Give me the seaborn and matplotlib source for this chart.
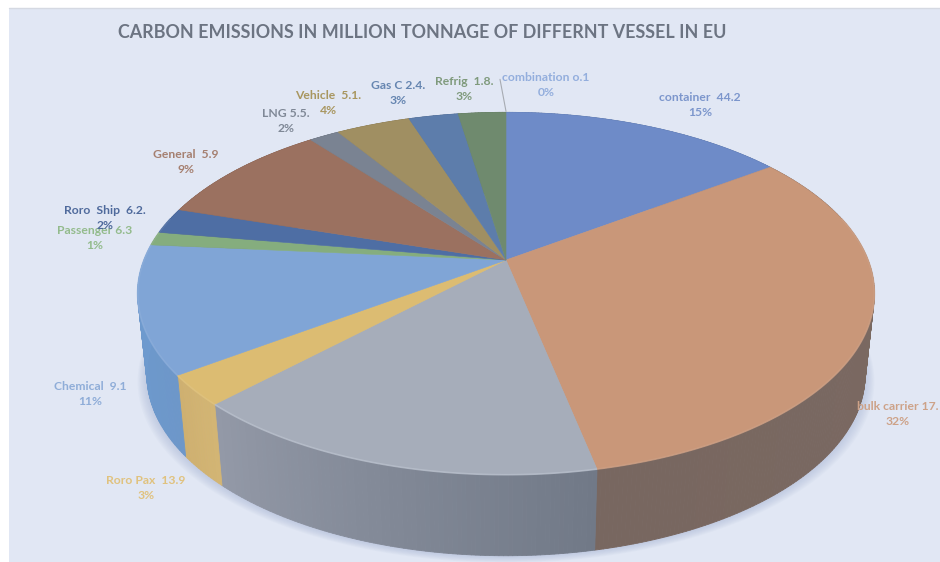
import numpy as np
import matplotlib
matplotlib.use("Agg")
import matplotlib.pyplot as plt
from matplotlib.collections import PolyCollection
from matplotlib.colors import to_rgb
import seaborn as sns

# ---- data (clockwise from 12 o'clock), slice shares ----
vessels = ["container", "bulk carrier", "other", "Roro Pax", "Chemical", "Passenger",
           "Roro Ship", "General", "LNG", "Vehicle", "Gas C", "Refrig", "combination"]
shares = [15.0, 31.7, 15.6, 2.7, 11.4, 1.2, 2.3, 9.5, 1.6, 3.9, 2.6, 2.5, 0.0]
top_colors = ["#6e8bc8", "#c99779", "#a6adba", "#dcbc72", "#80a5d6", "#85ad7e", "#4e6ea4",
              "#9b7160", "#7a8392", "#a08f62", "#5d7dab", "#6f8a6e", "#8fb0e0"]
wall_from = ["#56709f", "#7c6a62", "#717987", "#d3b574", "#6d97c9", "#6a8a64", "#3e5883",
             "#7c5a4c", "#616874", "#80724e", "#4a6488", "#586e58", "#8fb0e0"]
wall_to = ["#56709f", "#786760", "#9399a7", "#cfb070", "#6e9bd0", "#6a8a64", "#3e5883",
           "#7c5a4c", "#616874", "#80724e", "#4a6488", "#586e58", "#8fb0e0"]
label_texts = ["container  44.2\n15%", "bulk carrier 17.\n32%", "Chemical  9.1\n11%",
               "Roro Pax  13.9\n3%", "Passenger 6.3\n1%", "Roro  Ship  6.2.\n2%",
               "General  5.9\n9%", "LNG 5.5.\n2%", "Vehicle  5.1.\n4%", "Gas C 2.4.\n3%",
               "Refrig  1.8.\n3%", "combination o.1\n0%"]
label_colors = ["#7c96cc", "#cda288", "#8fadd8", "#e0c27e", "#93bb8c", "#4f6a9c",
                "#a57f6f", "#7f8896", "#a8965f", "#6585b0", "#7f9a7c", "#93aedd"]
label_x = [700, 898, 90, 146, 95, 105, 186, 286, 328, 398, 464, 546]
label_y = [105, 414, 394, 488, 238, 218, 162, 121, 103, 93, 89, 85]
title = "CARBON EMISSIONS IN MILLION TONNAGE OF DIFFERNT VESSEL IN EU"

sns.set_theme(style="white")
plt.rcParams["font.family"] = ["Lato", "DejaVu Sans"]

# ---- pie geometry in pixel space ----
CX, CY = 506, 260
A, B, K = 362, 175, 0.185
WALL, SHRINK = 81, 0.975


def rim(theta, shrink=1.0, drop=0.0):
    X, Y = np.sin(theta), np.cos(theta)
    den = 1 + K * Y
    return CX + shrink * A * X / den, CY - B * Y / den + drop


def blend(c1, c2, t):
    return tuple((1 - t) * a + t * b for a, b in zip(to_rgb(c1), to_rgb(c2)))


fig = plt.figure(figsize=(9.4, 5.62), dpi=100, facecolor="white")
ax = fig.add_axes([0, 0, 1, 1])
ax.set_xlim(0, 940)
ax.set_ylim(562, 0)
ax.axis("off")
ax.add_patch(plt.Rectangle((9, 8), 931, 554, fc="#e1e7f4", ec="none", zorder=0))
ax.plot([9, 940], [8, 8], color="#d5d9e2", lw=1, zorder=0.5)

# soft shadow
full = np.linspace(0, 2 * np.pi, 361)
for i, s in enumerate(np.linspace(1.0, 0.975, 9)):
    x, y = rim(full, s, WALL + 7 - i * 0.8)
    ax.fill(x, y, color="#a4b2d2", alpha=0.07, lw=0, zorder=1)

edges = np.radians(np.concatenate([[0], np.cumsum(shares)]) / sum(shares) * 360)


def steps(share):
    return max(int(share * 6), 3)


# side wall
for i in range(len(shares)):
    if shares[i] == 0:
        continue
    th = np.linspace(edges[i], edges[i + 1], steps(shares[i]))
    xt, yt = rim(th)
    xb, yb = rim(th, SHRINK, WALL)
    polys, cols = [], []
    for j in range(len(th) - 1):
        polys.append([(xt[j], yt[j]), (xt[j + 1], yt[j + 1]), (xb[j + 1], yb[j + 1]), (xb[j], yb[j])])
        cols.append(blend(wall_from[i], wall_to[i], j / max(len(th) - 2, 1)))
    ax.add_collection(PolyCollection(polys, facecolors=cols, edgecolors=cols, linewidths=0.6, zorder=2))

# top surface
for i in range(len(shares)):
    if shares[i] == 0:
        continue
    th = np.linspace(edges[i], edges[i + 1], steps(shares[i]))
    x, y = rim(th)
    ax.fill(np.r_[CX, x], np.r_[CY, y], color=top_colors[i], lw=0.4, zorder=3)
    # soft bevel along the front rim
    mask = np.cos(th) < 0.25
    if mask.any():
        light = "#bcc3cf" if vessels[i] == "other" else blend(top_colors[i], "#ffffff", 0.10)
        ax.plot(x[mask], y[mask], color=light, lw=1.2, alpha=0.7, zorder=4, solid_capstyle="butt")

# leader line for the zero slice
lx, ly = rim(edges[-1])
ax.plot([lx, lx - 6], [ly - 1, ly - 33], color="#a7abb2", lw=0.8, zorder=4)

# labels
for txt, col, x, y in zip(label_texts, label_colors, label_x, label_y):
    ax.text(x, y, txt, color=col, ha="center", va="center", fontsize=8.7, fontweight="bold",
            linespacing=1.42, zorder=5)
ax.text(422.5, 32, title, color="#6c7482", ha="center", va="center", fontsize=12.9, fontweight="bold", zorder=5)

fig.savefig("out.png", dpi=100, facecolor="white")
